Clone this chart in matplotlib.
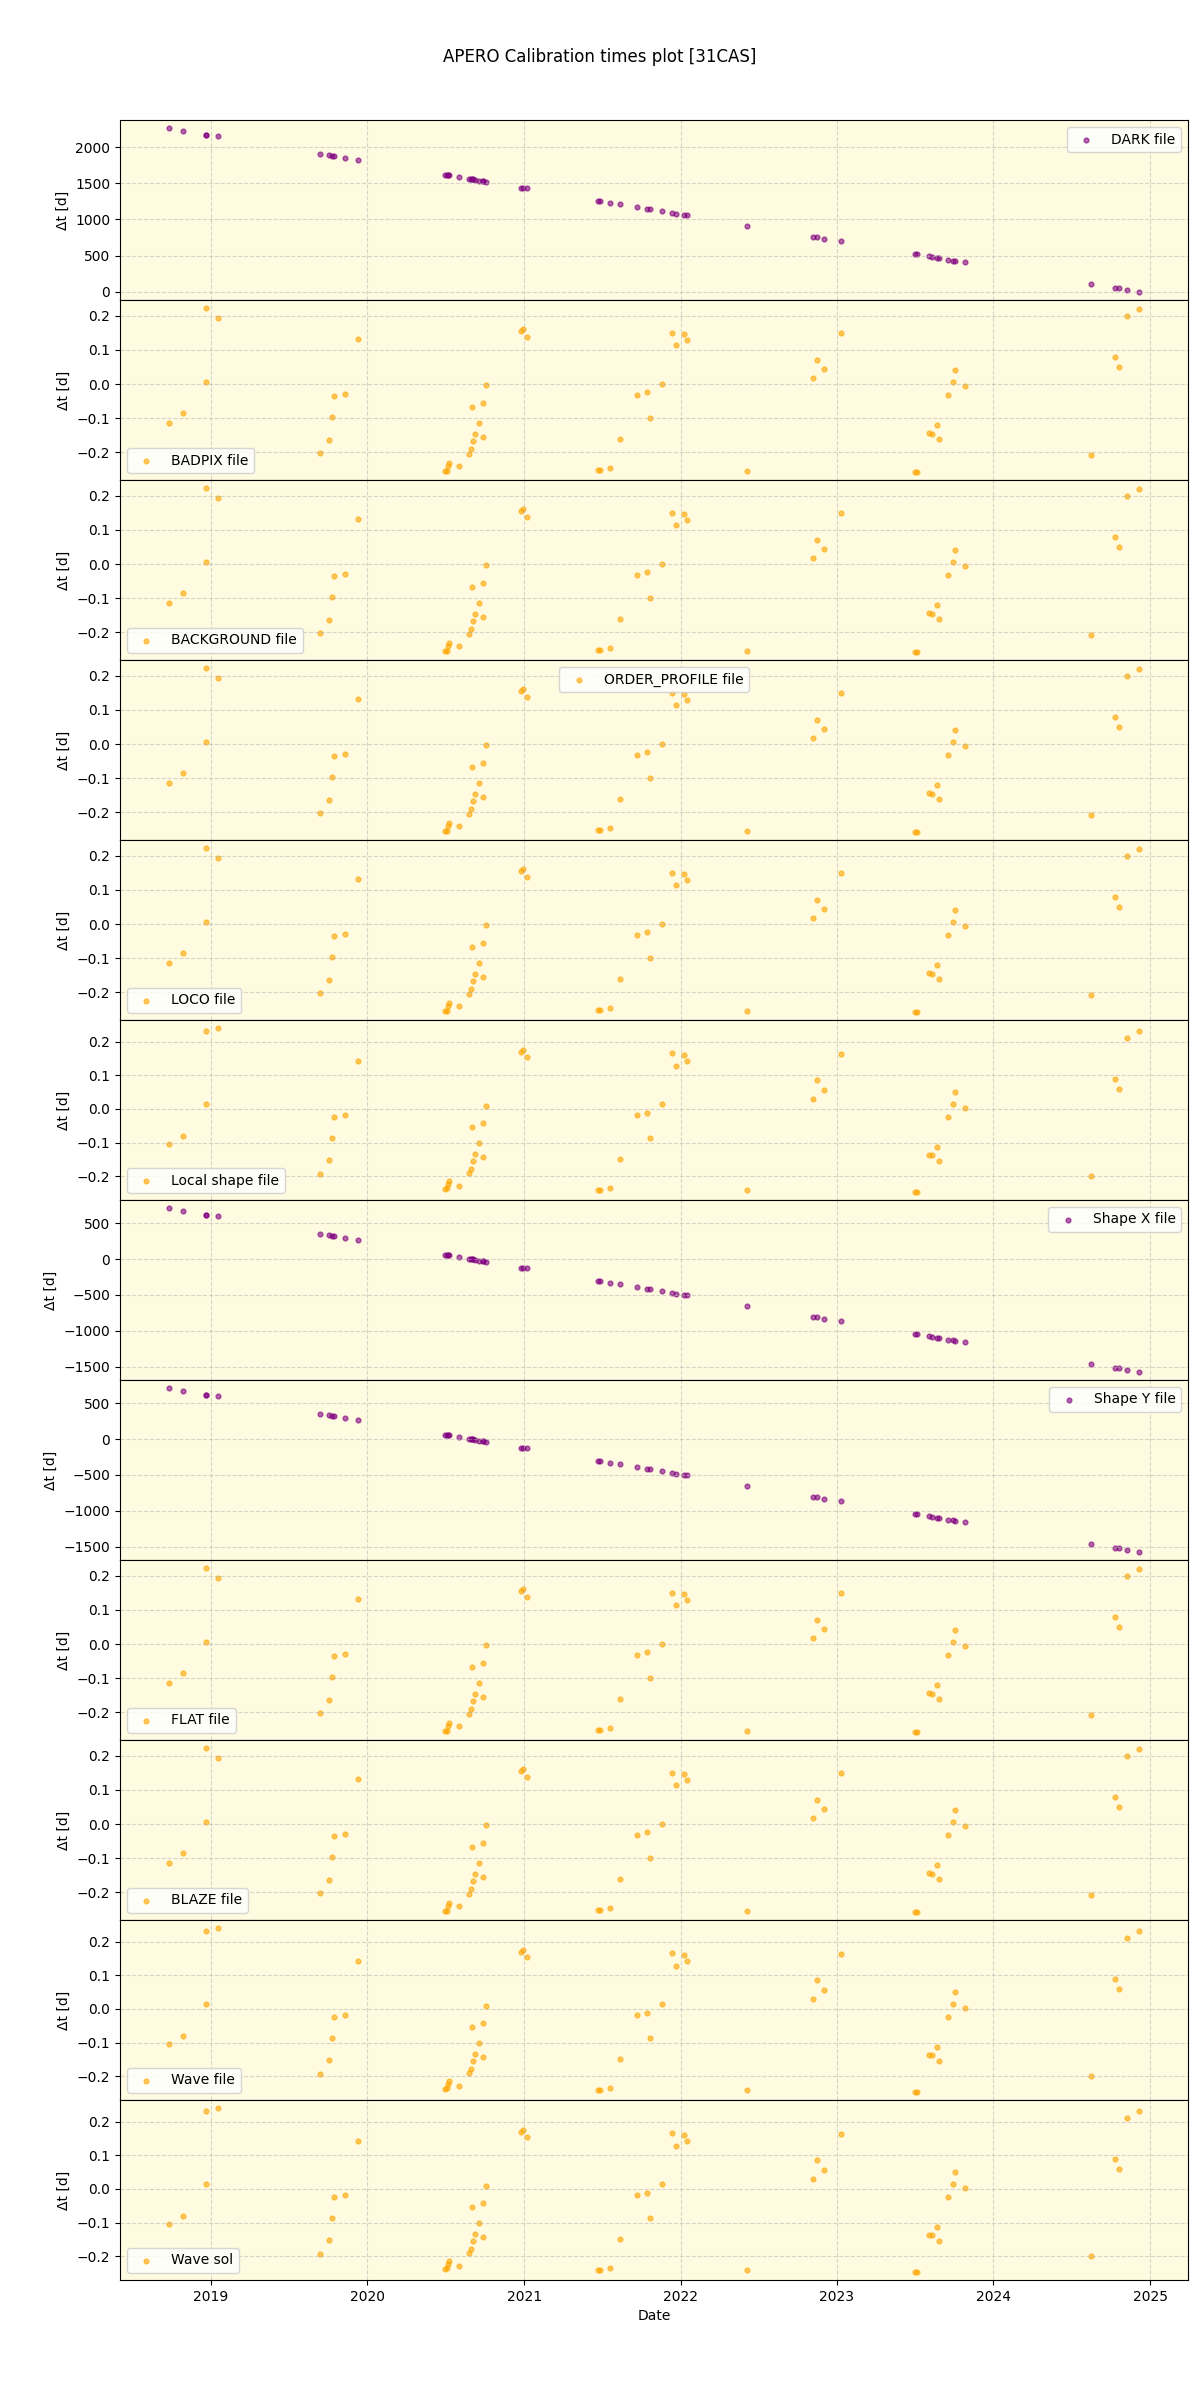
import matplotlib
matplotlib.use('Agg')
import matplotlib.pyplot as plt
import matplotlib.dates as mdates
import pandas as pd

# calibration dates
dates = ['2018-09-24', '2018-10-28', '2018-12-20', '2018-12-20', '2019-01-17',
         '2019-09-12', '2019-10-03', '2019-10-10', '2019-10-16', '2019-11-09',
         '2019-12-10', '2020-07-01', '2020-07-06', '2020-07-08', '2020-07-09',
         '2020-08-02', '2020-08-26', '2020-08-30', '2020-09-01', '2020-09-04',
         '2020-09-08', '2020-09-18', '2020-09-26', '2020-09-28', '2020-10-04',
         '2020-12-25', '2020-12-29', '2021-01-07', '2021-06-23', '2021-06-27',
         '2021-07-20', '2021-08-12', '2021-09-22', '2021-10-15', '2021-10-21',
         '2021-11-19', '2021-12-13', '2021-12-22', '2022-01-08', '2022-01-15',
         '2022-06-04', '2022-11-06', '2022-11-16', '2022-12-02', '2023-01-11',
         '2023-07-03', '2023-07-07', '2023-08-04', '2023-08-11', '2023-08-22',
         '2023-08-28', '2023-09-17', '2023-09-29', '2023-10-04', '2023-10-27',
         '2024-08-17', '2024-10-12', '2024-10-21', '2024-11-09', '2024-12-07']

dark_dt = [2262, 2221, 2166, 2166, 2152, 1904, 1890, 1876, 1876, 1848,
           1821, 1614, 1614, 1612, 1610, 1586, 1559, 1559, 1557, 1555,
           1549, 1531, 1531, 1528, 1517, 1435, 1435, 1432, 1255, 1253,
           1228, 1214, 1172, 1145, 1143, 1117, 1090, 1076, 1062, 1060,
           910, 759, 757, 731, 703, 524, 522, 497, 483, 469,
           467, 441, 432, 430, 414, 110, 55, 53, 28, 0]

shape_dt = [708, 667, 611, 611, 597, 347, 333, 319, 319, 292,
            264, 56, 56, 54, 52, 28, 0, 0, -2, -5,
            -9, -23, -28, -32, -42, -125, -125, -128, -306, -308,
            -333, -347, -389, -417, -419, -444, -472, -486, -500, -502,
            -653, -806, -808, -833, -861, -1042, -1044, -1070, -1083, -1097,
            -1099, -1125, -1134, -1136, -1153, -1458, -1514, -1516, -1542, -1570]

badpix_dt = [-0.114, -0.085, 0.222, 0.006, 0.193, -0.201, -0.163, -0.096, -0.035, -0.029,
             0.131, -0.254, -0.254, -0.239, -0.230, -0.239, -0.204, -0.190, -0.067, -0.166,
             -0.146, -0.114, -0.055, -0.155, -0.003, 0.155, 0.160, 0.137, -0.251, -0.251,
             -0.245, -0.161, -0.032, -0.023, -0.099, 0.000, 0.149, 0.114, 0.146, 0.128,
             -0.254, 0.018, 0.070, 0.044, 0.149, -0.257, -0.257, -0.143, -0.146, -0.120,
             -0.161, -0.032, 0.006, 0.041, -0.006, -0.207, 0.079, 0.050, 0.198, 0.219]

wave_dt = [-0.104, -0.080, 0.231, 0.015, 0.240, -0.193, -0.151, -0.086, -0.024, -0.018,
           0.142, -0.237, -0.234, -0.222, -0.213, -0.228, -0.190, -0.178, -0.053, -0.154,
           -0.133, -0.101, -0.042, -0.142, 0.009, 0.169, 0.175, 0.154, -0.240, -0.240,
           -0.234, -0.148, -0.018, -0.012, -0.086, 0.015, 0.166, 0.127, 0.160, 0.142,
           -0.240, 0.030, 0.086, 0.056, 0.163, -0.246, -0.246, -0.136, -0.136, -0.113,
           -0.154, -0.024, 0.015, 0.050, 0.003, -0.199, 0.089, 0.059, 0.210, 0.231]

labels = ['DARK file', 'BADPIX file', 'BACKGROUND file', 'ORDER_PROFILE file',
          'LOCO file', 'Local shape file', 'Shape X file', 'Shape Y file',
          'FLAT file', 'BLAZE file', 'Wave file', 'Wave sol']
series = [dark_dt, badpix_dt, badpix_dt, badpix_dt, badpix_dt, wave_dt,
          shape_dt, shape_dt, badpix_dt, badpix_dt, wave_dt, wave_dt]
colors = ['purple', 'orange', 'orange', 'orange', 'orange', 'orange',
          'purple', 'purple', 'orange', 'orange', 'orange', 'orange']
locs = ['upper right', 'lower left', 'lower left', 'upper center', 'lower left',
        'lower left', 'upper right', 'upper right', 'lower left', 'lower left',
        'lower left', 'lower left']

t = pd.to_datetime(dates)

fig, axes = plt.subplots(12, 1, figsize=(12, 24), sharex=True)
fig.subplots_adjust(left=0.1, right=0.99, top=0.95, bottom=0.05, hspace=0)
fig.suptitle('APERO Calibration times plot [31CAS]')

for ax, lab, vals, col, loc in zip(axes, labels, series, colors, locs):
    ax.set_facecolor('#fefbe0')
    ax.scatter(t, vals, s=12, color=col, alpha=0.6, label=lab)
    ax.set_ylabel('Δt [d]')
    ax.grid(True, linestyle='--', alpha=0.5)
    ax.legend(loc=loc)

axes[-1].xaxis.set_major_locator(mdates.YearLocator())
axes[-1].xaxis.set_major_formatter(mdates.DateFormatter('%Y'))
axes[-1].set_xlabel('Date')

plt.savefig('out.png', dpi=100)
